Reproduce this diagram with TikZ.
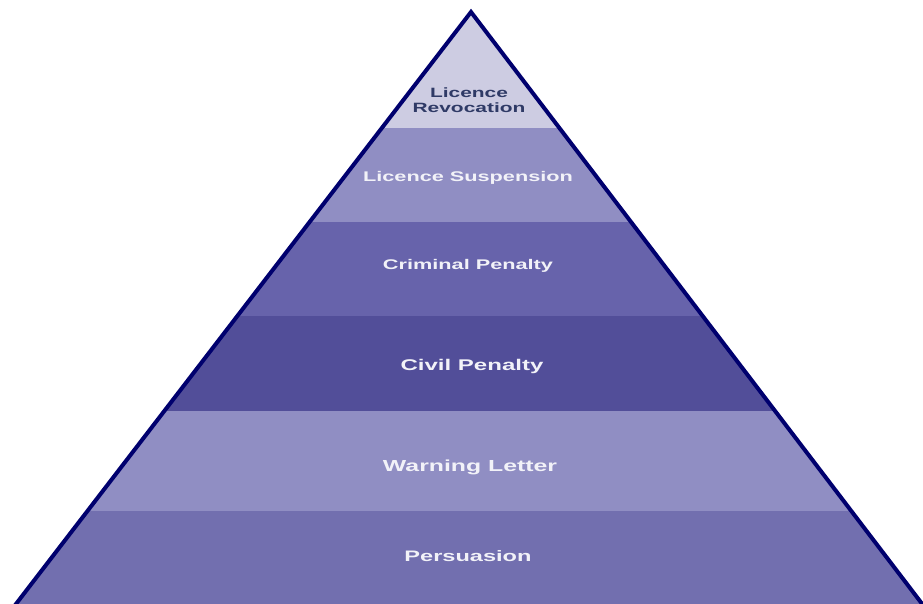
\documentclass[tikz,border=0pt]{standalone}
\usepackage{fontspec}
\setmainfont{Liberation Sans}
\usepackage{graphicx}
\definecolor{tierA}{HTML}{CDCCE2}
\definecolor{tierB}{HTML}{908EC3}
\definecolor{tierC}{HTML}{6763AB}
\definecolor{tierD}{HTML}{524E99}
\definecolor{tierE}{HTML}{908EC3}
\definecolor{tierF}{HTML}{726FAF}
\definecolor{edgeblue}{HTML}{00006E}
\definecolor{darktext}{HTML}{2F3A66}
\definecolor{lighttext}{HTML}{F2F2F8}
% wide bold lettering used for the tier captions
\newcommand{\widetext}[1]{\scalebox{1.55}[1]{#1}}
\tikzset{
  tierlabel/.style={inner sep=0pt, text=lighttext, font=\bfseries},
  outline/.style={draw=edgeblue, line width=4pt, line join=miter}
}
\begin{document}
\begin{tikzpicture}[x=1pt,y=-1pt]
\useasboundingbox (0,0) rectangle (923,604);
\clip (0,0) rectangle (923,604);
\coordinate (apex) at (471,12);
\coordinate (baseL) at (-4,630);
\coordinate (baseR) at (942,630);
% horizontal tiers cut to the triangle
\begin{scope}
  \clip (apex) -- (baseL) -- (baseR) -- cycle;
  \fill[tierA] (0,0) rectangle (923,128);
  \fill[tierB] (0,128) rectangle (923,222);
  \fill[tierC] (0,222) rectangle (923,316);
  \fill[tierD] (0,316) rectangle (923,411);
  \fill[tierE] (0,411) rectangle (923,511);
  \fill[tierF] (0,511) rectangle (923,640);
\end{scope}
\draw[outline] (baseL) -- (apex) -- (baseR);
% captions
\node[tierlabel, text=darktext] (revocation) at (469,102)
  {\fontsize{13.5}{14}\selectfont\widetext{\begin{tabular}{@{}c@{}}Licence\\[0.5pt]Revocation\end{tabular}}};
\node[tierlabel] (suspension) at (468,178) {\fontsize{14}{16}\selectfont\widetext{Licence Suspension}};
\node[tierlabel] (criminal) at (468,266) {\fontsize{14}{16}\selectfont\widetext{Criminal Penalty}};
\node[tierlabel] (civil) at (472,366) {\fontsize{15.5}{18}\selectfont\widetext{Civil Penalty}};
\node[tierlabel] (warning) at (470,467) {\fontsize{16}{18}\selectfont\widetext{Warning Letter}};
\node[tierlabel] (persuasion) at (468,556) {\fontsize{15.2}{18}\selectfont\widetext{Persuasion}};
\end{tikzpicture}
\end{document}
